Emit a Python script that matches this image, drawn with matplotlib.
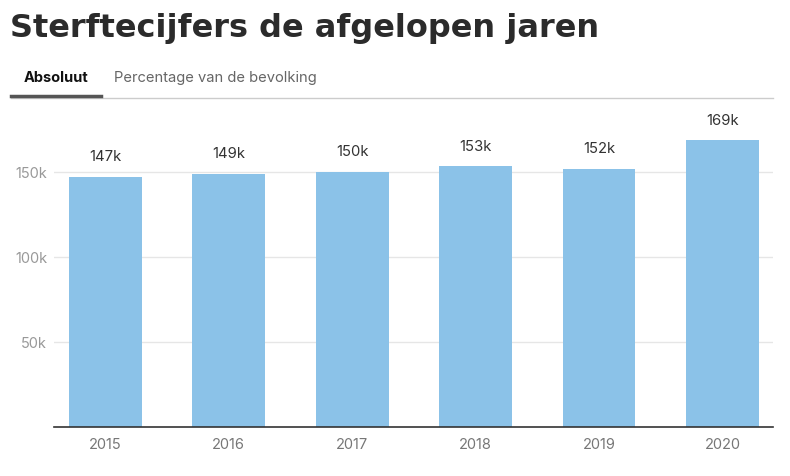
import matplotlib
matplotlib.use("Agg")
import matplotlib.pyplot as plt
from matplotlib.lines import Line2D

years = ["2015", "2016", "2017", "2018", "2019", "2020"]
deaths = [147134, 148997, 150214, 153363, 151885, 168678]
value_labels = ["147k", "149k", "150k", "153k", "152k", "169k"]
yticks = [50000, 100000, 150000]
ytick_labels = ["50k", "100k", "150k"]

plt.rcParams['font.family'] = ['Inter', 'DejaVu Sans']

W, H = 790, 476
fig = plt.figure(figsize=(W / 100, H / 100), dpi=100)
ax = fig.add_axes([54 / W, (H - 427) / H, (773 - 54) / W, (427 - 110) / H])

x = range(len(years))
ax.bar(x, deaths, width=0.59, color="#8bc2e8", zorder=2)
for xi, v, lab in zip(x, deaths, value_labels):
    ax.annotate(lab, (xi, v), xytext=(0, 9), textcoords="offset points",
                ha="center", va="bottom", fontsize=10.7, color="#333333")

ax.set_xlim(-0.415, 5.41)
ax.set_ylim(0, 186500)
ax.set_xticks(list(x))
ax.set_xticklabels(years)
ax.set_yticks(yticks)
ax.set_yticklabels(ytick_labels)
ax.tick_params(axis="both", length=0, labelsize=10.5, labelcolor="#999999")
ax.tick_params(axis="x", pad=8, labelcolor="#777777")
ax.tick_params(axis="y", pad=5)
ax.grid(axis="y", color="#e6e6e6", linewidth=1, zorder=0)
for s in ["top", "right", "left"]:
    ax.spines[s].set_visible(False)
ax.spines["bottom"].set_color("#333333")
ax.spines["bottom"].set_linewidth(1.2)

# title and tabs
fig.text(10 / W, 1 - 29 / H, "Sterftecijfers de afgelopen jaren", fontsize=23,
         fontweight="bold", family="DejaVu Sans", color="#2b2b2b",
         va="center", ha="left")
fig.text(24 / W, 1 - 78 / H, "Absoluut", fontsize=10.5, fontweight="bold",
         color="#111111", va="center", ha="left")
fig.text(114 / W, 1 - 78 / H, "Percentage van de bevolking", fontsize=10.6,
         color="#666666", va="center", ha="left")
fig.add_artist(Line2D([11 / W, 773 / W], [1 - 98 / H, 1 - 98 / H],
                      color="#cccccc", linewidth=1, transform=fig.transFigure))
fig.add_artist(Line2D([11 / W, 101 / W], [1 - 95.5 / H, 1 - 95.5 / H],
                      color="#555555", linewidth=2.5, transform=fig.transFigure))

fig.savefig("out.png", dpi=100)
